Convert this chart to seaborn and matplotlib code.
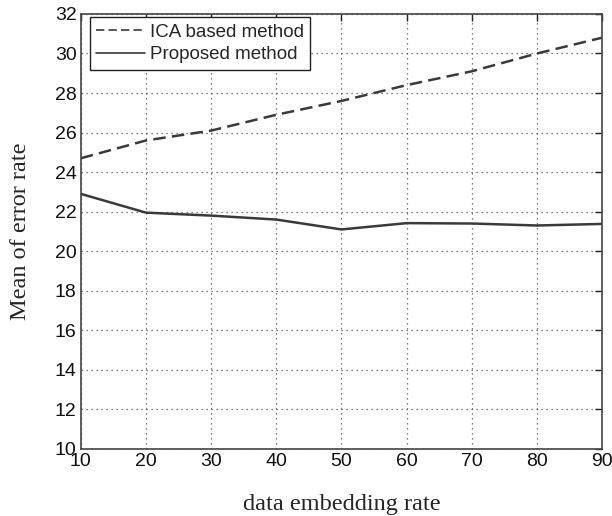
import matplotlib
matplotlib.use("Agg")
import matplotlib.pyplot as plt
import seaborn as sns
import pandas as pd
from matplotlib.lines import Line2D

rates = [10, 20, 30, 40, 50, 60, 70, 80, 90]
ica_based = [24.7, 25.6, 26.1, 26.9, 27.6, 28.4, 29.1, 30.0, 30.8]
proposed = [22.9, 21.95, 21.8, 21.6, 21.1, 21.42, 21.4, 21.3, 21.38]
series_names = ["ICA based method", "Proposed method"]
x_ticks = [10, 20, 30, 40, 50, 60, 70, 80, 90]
y_ticks = [10, 12, 14, 16, 18, 20, 22, 24, 26, 28, 30, 32]

df = pd.DataFrame({
    "rate": rates * 2,
    "value": ica_based + proposed,
    "method": [series_names[0]] * len(rates) + [series_names[1]] * len(rates),
})

sns.set_style("white")
plt.rcParams["font.family"] = ["Liberation Sans", "DejaVu Sans"]

fig = plt.figure(figsize=(6.12, 5.16), dpi=100)
ax = fig.add_axes([0.132, 0.130, 0.852, 0.843])

sns.lineplot(data=df, x="rate", y="value", hue="method", style="method",
             palette={series_names[0]: "#3a3a3a", series_names[1]: "#3a3a3a"},
             dashes={series_names[0]: (5, 2.5), series_names[1]: ""},
             linewidth=1.8, ax=ax, legend=False)

ax.set_xlim(10, 90)
ax.set_ylim(10, 32)
ax.set_xticks(x_ticks)
ax.set_yticks(y_ticks)
ax.tick_params(direction="in", length=5, width=1, colors="#222222", labelsize=14)
ax.tick_params(axis="y", pad=3)
ax.tick_params(axis="x", pad=3)
ax.tick_params(top=True, right=True, labeltop=False, labelright=False)
for lbl in ax.get_xticklabels() + ax.get_yticklabels():
    lbl.set_color("#111111")
ax.grid(True, linestyle=(0, (1, 3)), color="#555555", linewidth=0.9)
for s in ax.spines.values():
    s.set_color("#444444")
    s.set_linewidth(1.2)
    s.set_visible(True)

ax.set_xlabel("data embedding rate", family="Liberation Serif", fontsize=17.5, labelpad=17)
ax.set_ylabel("Mean of error rate", family="Liberation Serif", fontsize=17.5, labelpad=17)

handles = [Line2D([], [], color="#3a3a3a", linestyle=(0, (5, 2.5)), linewidth=1.2),
           Line2D([], [], color="#3a3a3a", linestyle="-", linewidth=1.2)]
leg = ax.legend(handles, series_names, loc="upper left", bbox_to_anchor=(0.017, 0.993),
                fontsize=13.5, frameon=True,
                fancybox=False, edgecolor="#222222", framealpha=1,
                borderaxespad=0.0, handlelength=2.6, handletextpad=0.25,
                borderpad=0.35, labelspacing=0.3)
leg.get_frame().set_linewidth(1.0)

fig.savefig("out.png", dpi=100)
